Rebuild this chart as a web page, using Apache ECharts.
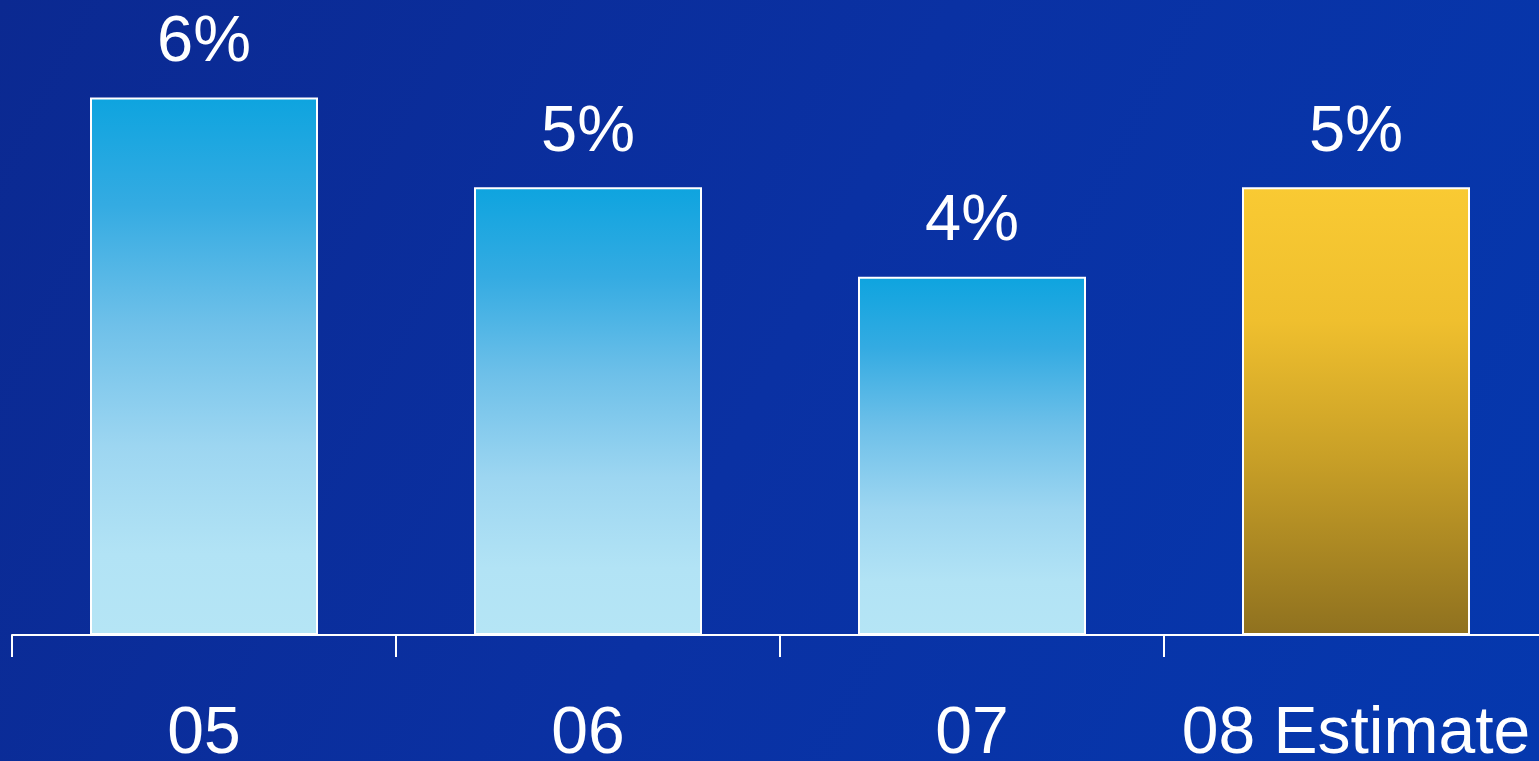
<!DOCTYPE html>
<html>
<head>
<meta charset="utf-8">
<title>Growth by year</title>
<script src="https://cdn.jsdelivr.net/npm/echarts@6/dist/echarts.min.js"></script>
<style>
  html, body { margin: 0; padding: 0; width: 100%; height: 100%; overflow: hidden; background: #0831a2; }
  #chart { width: 1539px; height: 761px; }
</style>
</head>
<body>
<div id="chart"></div>
<script>
// Yearly growth rate, with the last year being an estimate
const years = ['05', '06', '07', '08 Estimate'];
const growthPct = [6, 5, 4, 5];
const estimateYear = '08 Estimate';

const FONT = '"Liberation Sans", Arial, sans-serif';

const actualFill = new echarts.graphic.LinearGradient(0, 0, 0, 1, [
  { offset: 0, color: '#0ea4df' },
  { offset: 0.2, color: '#34abe2' },
  { offset: 0.42, color: '#6ec0e9' },
  { offset: 0.65, color: '#9dd6f1' },
  { offset: 0.85, color: '#b2e3f5' },
  { offset: 1, color: '#b5e5f5' }
]);
const estimateFill = new echarts.graphic.LinearGradient(0, 0, 0, 1, [
  { offset: 0, color: '#f9ca33' },
  { offset: 0.3, color: '#efbf2e' },
  { offset: 0.6, color: '#c9a027' },
  { offset: 1, color: '#8f711f' }
]);

const barData = growthPct.map((v, i) => ({
  value: v,
  itemStyle: { color: years[i] === estimateYear ? estimateFill : actualFill }
}));

const chart = echarts.init(document.getElementById('chart'), null, { renderer: 'canvas' });
chart.setOption({
  animation: false,
  backgroundColor: new echarts.graphic.LinearGradient(0, 0, 1, 1, [
    { offset: 0, color: '#0b2991' },
    { offset: 0.5, color: '#0a31a3' },
    { offset: 1, color: '#0538ae' }
  ]),
  grid: {
    left: 12, right: -9, top: 8, bottom: 126,
    containLabel: false,
    outerBoundsMode: 'none'
  },
  xAxis: {
    type: 'category',
    data: years,
    axisLine: { show: true, lineStyle: { color: '#ffffff', width: 2 } },
    axisTick: { show: true, length: 22, lineStyle: { color: '#ffffff', width: 2 } },
    axisLabel: { color: '#ffffff', fontSize: 66, fontFamily: FONT, margin: 67, interval: 0 }
  },
  yAxis: {
    type: 'value',
    min: 0,
    max: 7,
    show: false,
    splitLine: { show: false }
  },
  series: [{
    type: 'bar',
    data: barData,
    barWidth: 228,
    itemStyle: { borderColor: '#ffffff', borderWidth: 2 },
    label: {
      show: true,
      position: 'top',
      distance: 22,
      formatter: '{c}%',
      color: '#ffffff',
      fontSize: 65,
      fontFamily: FONT
    }
  }]
});
</script>
</body>
</html>
